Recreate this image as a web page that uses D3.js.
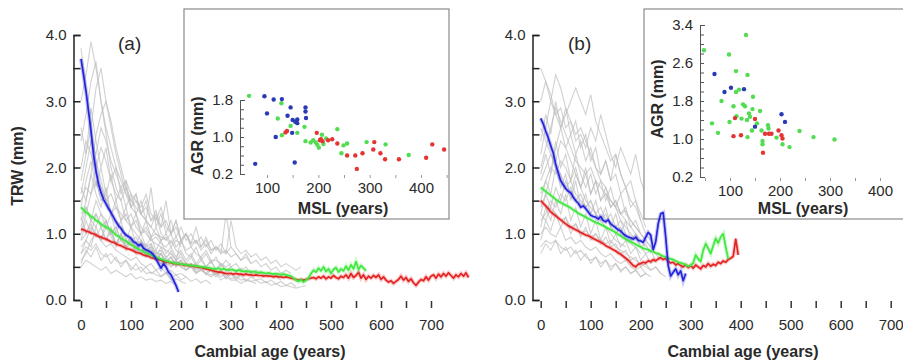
<!DOCTYPE html>
<html>
<head>
<meta charset="utf-8">
<script src="https://cdn.jsdelivr.net/npm/d3@7/dist/d3.min.js"></script>
<style>
  body { margin: 0; background: #fff; }
  svg text { font-family: "Liberation Sans", Arial, Helvetica, sans-serif; fill: #2a2a2a; }
</style>
</head>
<body>
<svg id="chart" width="903" height="360"></svg>
<script>
// ---- data (TRW in mm) ----
// gray individual series: one value every 10 years of cambial age
const GRAY_STEP = 10;
// mean curves: one value every 5 years
const MEAN_STEP = 5;

const grayA = [
  [3.8, 3.2, 2.6, 2.1, 1.8, 1.5, 1.3, 1.2, 1.1, 1.0, 0.9, 0.95, 0.8, 0.85, 0.7, 0.75, 0.6],
  [2.4, 2.8, 3.3, 3.6, 3.0, 2.5, 2.0, 1.7, 1.5, 1.2, 1.1, 1.0, 0.9, 0.8, 0.85, 0.7, 0.7, 0.6, 0.65, 0.55, 0.6],
  [1.8, 2.2, 2.6, 3.2, 3.5, 3.0, 2.6, 2.2, 1.9, 1.6, 1.4, 1.3, 1.1, 1.0, 0.9, 0.85, 0.8, 0.75, 0.7, 0.6, 0.65, 0.55, 0.5, 0.55, 0.45],
  [1.2, 1.5, 1.9, 2.5, 2.8, 3.0, 2.7, 2.3, 2.0, 1.7, 1.5, 1.6, 1.3, 1.2, 1.1, 1.3, 1.0, 0.9, 1.0, 0.8, 0.9, 0.75, 0.8, 0.7, 0.65, 0.75, 0.6, 0.6, 0.55, 0.5, 0.55],
  [0.9, 1.0, 1.2, 1.1, 1.3, 1.2, 1.0, 1.1, 0.9, 0.85, 0.95, 0.8, 0.7, 0.75, 0.65, 0.6, 0.7, 0.55, 0.5, 0.6, 0.5, 0.45, 0.5, 0.4, 0.45, 0.4, 0.35, 0.4, 0.3, 0.35, 0.3, 0.3, 0.25, 0.3, 0.28, 0.25],
  [0.7, 0.8, 0.75, 0.85, 0.7, 0.65, 0.7, 0.6, 0.55, 0.6, 0.5, 0.45, 0.5, 0.4, 0.42, 0.38, 0.35, 0.4, 0.3, 0.32, 0.28, 0.25],
  [1.5, 1.7, 1.6, 1.8, 1.5, 1.6, 1.3, 1.4, 1.2, 1.3, 1.1, 1.2, 1.0, 1.1, 0.95, 1.0, 0.9, 0.95, 0.8, 0.9, 0.85, 1.0, 0.8, 0.9, 0.75, 0.85, 0.7, 0.8, 0.75, 0.7, 1.2, 0.8, 0.7, 0.75, 0.65, 0.7, 0.6, 0.65, 0.55, 0.6, 0.5, 0.55, 0.5, 0.45, 0.5],
  [1.0, 1.3, 1.6, 2.0, 2.3, 2.1, 1.8, 1.6, 1.5, 1.7, 1.4, 1.5, 1.3, 1.4, 1.2, 1.25, 1.1, 1.5, 1.0, 1.2, 0.9, 1.0, 0.85, 0.9, 0.8, 0.95, 0.75, 0.8, 0.7, 0.75, 0.65, 0.7, 0.6, 0.65, 0.55, 0.6, 0.5, 0.55, 0.45, 0.5, 0.4, 0.45, 0.4],
  [0.6, 0.7, 0.9, 1.0, 0.9, 1.1, 0.95, 0.85, 0.9, 0.8, 0.75, 0.8, 0.7, 0.65, 0.7, 0.6, 0.55, 0.6, 0.5, 0.55, 0.5, 0.45, 0.5, 0.42, 0.45, 0.4, 0.38, 0.42, 0.35, 0.4, 0.32, 0.35, 0.3, 0.32, 0.28, 0.3, 0.25, 0.28, 0.22, 0.25, 0.2, 0.22, 0.2, 0.18, 0.2, 0.22],
  [2.0, 2.4, 2.2, 1.9, 1.7, 1.5, 1.6, 1.4, 1.3, 1.2, 1.3, 1.1, 1.0, 1.05, 0.9, 0.95, 0.85, 0.8, 0.9, 0.75, 0.7],
  [1.3, 1.4, 1.2, 1.3, 1.1, 1.2, 1.0, 1.1, 0.9, 1.0, 0.85, 0.8, 0.9, 0.75, 0.8, 0.7, 0.75, 0.65, 0.7, 0.6, 0.9, 0.7, 0.65, 0.8, 0.6, 0.7, 0.55, 0.65, 0.5, 0.6, 0.5, 0.55, 0.45, 0.5, 0.4, 0.45, 0.4, 0.35, 0.4, 0.35, 0.3],
  [0.8, 0.9, 1.1, 1.0, 0.9, 0.8, 0.85, 0.75, 0.7, 0.65, 0.6, 0.65, 0.55, 0.5, 0.55, 0.45, 0.5, 0.4, 0.45, 0.38, 0.4, 0.35],
  [3.0, 3.4, 3.9, 3.5, 3.0, 2.6, 2.3, 2.0, 1.8, 1.6, 1.5, 1.4, 1.3, 1.2, 1.1, 1.0, 0.95, 0.9],
  [1.6, 2.0, 2.4, 2.2, 2.6, 2.4, 2.1, 1.9, 1.7, 1.8, 1.6, 1.5, 1.4, 1.6, 1.3, 1.2, 1.4, 1.1, 1.0, 1.2, 0.9, 1.0, 0.85, 1.1, 0.8, 0.9, 0.75, 0.8, 0.7, 1.3, 0.8, 0.7, 0.6, 0.7, 0.55],
  [0.5, 0.6, 0.55, 0.5, 0.45, 0.5, 0.4, 0.45, 0.4, 0.35, 0.4, 0.32, 0.35, 0.3, 0.32, 0.28, 0.3, 0.25, 0.28, 0.22],
  [1.1, 1.4, 1.2, 1.5, 1.3, 1.1, 1.3, 1.0, 1.2, 0.9, 1.1, 0.85, 1.0, 0.8, 0.95, 0.75, 0.9, 0.7, 0.8, 0.65, 0.75, 0.6, 0.7, 0.55, 0.65, 0.5, 0.6, 0.45, 0.55, 0.45, 0.5],
  [0.9, 1.2, 1.0, 1.3, 1.1, 0.9, 1.1, 0.8, 1.0, 0.75, 0.9, 0.7, 0.85, 0.65, 0.8, 0.6, 0.7, 0.55, 0.65, 0.5, 0.6, 0.45, 0.55, 0.4, 0.5, 0.38, 0.45, 0.35, 0.42, 0.32, 0.4, 0.3, 0.38, 0.28, 0.35, 0.3, 0.32, 0.26, 0.3, 0.24, 0.28, 0.22, 0.26, 0.2],
  [1.7, 1.5, 1.9, 1.6, 1.4, 1.7, 1.3, 1.5, 1.2, 1.4, 1.1, 1.3, 1.0, 1.2, 0.95, 1.1, 0.9, 1.0, 0.85, 0.95, 0.8],
  [0.7, 0.9, 0.8, 1.1, 0.9, 1.2, 1.0, 0.85, 1.0, 0.8, 0.9, 0.7, 0.85, 0.65, 0.75, 0.6, 0.7, 0.55, 0.65, 0.5, 0.6, 0.5, 0.55, 0.45, 0.5, 0.4, 0.48, 0.38, 0.45, 0.35, 0.42, 0.33, 0.4],
  [2.6, 2.2, 2.9, 2.4, 2.0, 2.3, 1.8, 2.0, 1.6, 1.8, 1.4, 1.6, 1.3, 1.5, 1.2, 1.35, 1.1, 1.2, 1.0, 1.1, 0.9, 1.0, 0.85],
  [1.25, 1.0, 1.15, 0.95, 1.1, 0.9, 1.05, 0.85, 1.0, 0.8, 0.95, 0.75, 0.9, 0.7, 0.85, 0.65, 0.8, 0.62, 0.75, 0.6, 0.7, 0.55, 0.65, 0.52, 0.6, 0.5, 0.58, 0.46, 0.55, 0.44, 0.5, 0.42, 0.48, 0.4, 0.45, 0.38, 0.42],
  [0.55, 0.75, 0.65, 0.8, 0.6, 0.7, 0.55, 0.65, 0.5, 0.6, 0.45, 0.55, 0.42, 0.5, 0.4, 0.45, 0.36, 0.42, 0.33, 0.38, 0.3, 0.35, 0.28, 0.32, 0.26, 0.3, 0.24],
  [1.4, 1.8, 2.1, 1.7, 2.0, 1.6, 1.9, 1.5, 1.7, 1.4, 1.6, 1.3, 1.5, 1.2, 1.7, 1.1, 1.3, 1.0, 1.2, 0.95, 1.1, 0.9, 1.0, 0.85, 0.95, 0.8, 0.9, 0.75, 0.85, 0.7, 0.8]
];

const blueA = [3.64, 3.40, 3.15, 2.85, 2.55, 2.20, 1.95, 1.75, 1.62, 1.52, 1.45, 1.38, 1.32, 1.25, 1.18, 1.12, 1.08, 1.02, 0.98, 0.96,
  0.93, 0.88, 0.86, 0.82, 0.84, 0.78, 0.76, 0.74, 0.72, 0.68, 0.62, 0.55, 0.48, 0.55, 0.50, 0.42, 0.38, 0.30, 0.22, 0.12];

const greenA = [1.40, 1.36, 1.32, 1.30, 1.26, 1.24, 1.20, 1.18, 1.15, 1.12, 1.10, 1.08, 1.05, 1.02, 0.98, 0.96, 0.93, 0.91, 0.89, 0.86,
  0.83, 0.81, 0.79, 0.77, 0.75, 0.73, 0.71, 0.70, 0.68, 0.66, 0.65, 0.63, 0.62, 0.60, 0.59, 0.58, 0.57, 0.56, 0.55, 0.55,
  0.54, 0.54, 0.53, 0.53, 0.52, 0.52, 0.51, 0.51, 0.50, 0.50, 0.49, 0.49, 0.48, 0.47, 0.47, 0.48, 0.46, 0.47, 0.46, 0.45,
  0.46, 0.45, 0.44, 0.45, 0.44, 0.43, 0.44, 0.43, 0.42, 0.43, 0.42, 0.41, 0.42, 0.41, 0.40, 0.41, 0.40, 0.39, 0.40, 0.39,
  0.38, 0.39, 0.38, 0.37, 0.36, 0.33, 0.30, 0.28, 0.31, 0.27, 0.30, 0.33, 0.40, 0.45, 0.42, 0.48, 0.44, 0.50, 0.43, 0.47,
  0.40, 0.46, 0.49, 0.42, 0.47, 0.44, 0.51, 0.45, 0.53, 0.47, 0.58, 0.46, 0.52, 0.48, 0.44];

const redA = [1.07, 1.06, 1.04, 1.03, 1.01, 1.00, 0.98, 0.96, 0.95, 0.93, 0.92, 0.90, 0.88, 0.87, 0.85, 0.83, 0.82, 0.80, 0.78, 0.77,
  0.76, 0.74, 0.72, 0.71, 0.70, 0.68, 0.67, 0.66, 0.64, 0.63, 0.62, 0.61, 0.60, 0.58, 0.57, 0.57, 0.56, 0.55, 0.55, 0.54,
  0.54, 0.53, 0.53, 0.52, 0.52, 0.51, 0.50, 0.50, 0.49, 0.48, 0.47, 0.46, 0.45, 0.44, 0.43, 0.42, 0.42, 0.41, 0.40, 0.40,
  0.40, 0.39, 0.40, 0.39, 0.39, 0.38, 0.39, 0.38, 0.38, 0.37, 0.38, 0.37, 0.37, 0.36, 0.37, 0.36, 0.36, 0.35, 0.36, 0.35,
  0.35, 0.34, 0.35, 0.34, 0.33, 0.32, 0.31, 0.30, 0.31, 0.30, 0.31, 0.32, 0.33, 0.34, 0.32, 0.35, 0.33, 0.36, 0.32, 0.35,
  0.33, 0.37, 0.34, 0.32, 0.36, 0.34, 0.38, 0.33, 0.40, 0.34, 0.37, 0.42, 0.33, 0.38, 0.31, 0.36, 0.33, 0.37, 0.34, 0.38,
  0.31, 0.35, 0.30, 0.27, 0.29, 0.25, 0.28, 0.31, 0.36, 0.30, 0.34, 0.28, 0.32, 0.26, 0.22, 0.27, 0.31, 0.29, 0.35, 0.30,
  0.36, 0.38, 0.33, 0.39, 0.35, 0.40, 0.36, 0.41, 0.37, 0.33, 0.38, 0.35, 0.40, 0.36, 0.41, 0.34];

const grayB = [
  [3.5, 3.3, 3.0, 2.8, 2.6, 2.3, 2.1, 1.9, 1.7, 1.5, 1.4, 1.3, 1.2, 1.1, 1.0, 0.9, 0.85, 0.8],
  [2.2, 2.6, 3.0, 3.4, 3.2, 2.9, 2.7, 2.5, 2.6, 2.4, 2.2, 2.0, 1.8, 1.7, 1.5, 1.4, 1.2, 1.1, 1.0, 0.9],
  [1.4, 1.6, 1.9, 2.3, 2.6, 2.8, 3.0, 3.2, 3.0, 2.8, 3.1, 2.7, 2.5, 2.3, 2.1, 2.2, 1.9, 1.7, 1.5, 1.4, 1.2, 1.0, 0.9],
  [1.8, 2.0, 2.2, 2.1, 2.4, 2.3, 2.5, 2.2, 2.4, 2.1, 2.3, 2.0, 1.9, 2.1, 1.8, 2.2, 1.9, 1.7, 1.8, 1.5, 1.3, 1.1],
  [1.2, 1.3, 1.5, 1.4, 1.6, 1.5, 1.7, 1.5, 1.6, 1.4, 1.5, 1.3, 1.4, 1.2, 1.3, 1.1, 1.2, 1.0, 0.9, 0.95, 0.8, 0.7, 0.75, 0.6],
  [1.0, 1.1, 1.0, 0.95, 1.1, 0.9, 0.95, 0.85, 0.9, 0.8, 0.75, 0.8, 0.7, 0.65, 0.7, 0.6, 0.55, 0.6, 0.5, 0.45, 0.5, 0.4],
  [2.6, 2.4, 2.2, 2.0, 1.9, 1.7, 1.8, 1.6, 1.5, 1.4, 1.5, 1.3, 1.2, 1.3, 1.1, 1.0, 1.1, 0.9, 0.85, 0.8, 0.7],
  [1.6, 1.8, 2.0, 1.9, 2.1, 2.0, 1.8, 2.2, 1.9, 1.7, 1.9, 1.6, 1.8, 1.5, 1.7, 1.4, 1.6, 1.3, 1.2, 1.1, 1.0, 0.9, 0.8, 0.7, 0.6],
  [0.8, 0.9, 0.85, 0.9, 0.8, 0.75, 0.8, 0.7, 0.75, 0.65, 0.6, 0.65, 0.55, 0.6, 0.5, 0.55, 0.45, 0.5, 0.4, 0.45, 0.35, 0.4, 0.35],
  [3.0, 3.3, 3.1, 2.8, 2.9, 2.6, 2.7, 2.4, 2.5, 2.3, 2.6, 2.4, 2.8, 2.5, 2.2, 2.0, 2.3, 2.1, 1.9, 2.2, 1.8, 1.6, 1.4],
  [1.3, 1.2, 1.4, 1.3, 1.2, 1.25, 1.1, 1.15, 1.0, 1.05, 0.95, 1.0, 0.9, 0.85, 0.9, 0.8, 0.75, 0.7, 0.65, 0.6, 0.55, 0.5, 0.45, 0.5, 0.4, 0.35],
  [2.0, 2.3, 2.6, 2.9, 2.7, 2.5, 2.3, 2.1, 2.0, 1.9, 2.0, 1.8, 1.7, 1.6, 1.5, 1.4, 1.3, 1.2, 1.1, 1.0, 0.9, 0.8],
  [1.5, 1.8, 1.6, 2.0, 1.7, 1.9, 1.5, 1.8, 1.4, 1.6, 1.3, 1.5, 1.2, 1.4, 1.1, 1.3, 1.0, 1.2, 0.9, 1.0, 0.8, 0.85, 0.7],
  [1.1, 1.4, 1.2, 1.5, 1.3, 1.6, 1.2, 1.4, 1.1, 1.3, 1.0, 1.2, 0.9, 1.1, 0.85, 1.0, 0.8, 0.9, 0.7, 0.8, 0.6, 0.7, 0.55, 0.6],
  [2.4, 2.8, 2.5, 3.0, 2.6, 2.9, 2.5, 2.7, 2.3, 2.5, 2.1, 2.3, 1.9, 2.1, 1.8, 1.9, 1.6, 1.7, 1.4, 1.5, 1.2],
  [0.9, 1.2, 1.05, 1.3, 1.1, 1.25, 1.0, 1.15, 0.95, 1.1, 0.9, 1.0, 0.85, 0.95, 0.8, 0.85, 0.7, 0.75, 0.6, 0.65, 0.5, 0.55, 0.45, 0.5, 0.4],
  [1.9, 2.2, 1.9, 2.4, 2.0, 2.2, 1.8, 2.0, 1.7, 1.9, 1.6, 1.8, 1.5, 1.6, 1.4, 1.5, 1.3, 1.35, 1.2, 1.1, 1.0],
  [1.3, 1.6, 1.4, 1.7, 1.5, 1.8, 1.6, 1.9, 1.7, 2.0, 1.6, 1.8, 1.5, 1.7, 1.4, 1.5, 1.3, 1.4, 1.1, 1.2, 1.0, 0.9, 0.8, 0.7],
  [0.7, 0.85, 0.75, 0.9, 0.7, 0.8, 0.65, 0.75, 0.6, 0.7, 0.55, 0.65, 0.5, 0.6, 0.45, 0.55, 0.42, 0.5, 0.4, 0.45, 0.35, 0.4]
];

const blueB = [2.74, 2.66, 2.55, 2.45, 2.33, 2.22, 2.05, 1.92, 1.80, 1.74, 1.68, 1.64, 1.62, 1.55, 1.50, 1.46, 1.40, 1.42, 1.38, 1.33,
  1.28, 1.26, 1.25, 1.22, 1.26, 1.20, 1.18, 1.21, 1.15, 1.12, 1.09, 1.06, 1.04, 1.00, 0.97, 0.95, 0.94, 0.92, 0.95, 0.90,
  0.89, 0.87, 0.95, 1.02, 0.98, 0.76, 0.88, 1.15, 1.30, 1.32, 0.95, 0.52, 0.36, 0.42, 0.47, 0.38, 0.44, 0.29, 0.40];

const greenB = [1.70, 1.67, 1.64, 1.61, 1.58, 1.55, 1.52, 1.49, 1.47, 1.45, 1.43, 1.41, 1.39, 1.36, 1.34, 1.31, 1.29, 1.27, 1.25, 1.23,
  1.21, 1.19, 1.17, 1.16, 1.14, 1.12, 1.10, 1.08, 1.06, 1.04, 1.02, 0.99, 0.97, 0.94, 0.92, 0.90, 0.88, 0.86, 0.84, 0.82,
  0.80, 0.78, 0.77, 0.76, 0.74, 0.73, 0.71, 0.70, 0.68, 0.66, 0.65, 0.63, 0.62, 0.61, 0.59, 0.57, 0.56, 0.55, 0.53, 0.51,
  0.52, 0.56, 0.68, 0.62, 0.58, 0.75, 0.85, 0.78, 0.70, 0.82, 0.93, 0.86, 0.95, 1.00, 0.80, 0.62];

const redB = [1.50, 1.46, 1.42, 1.38, 1.33, 1.30, 1.27, 1.24, 1.21, 1.18, 1.15, 1.12, 1.10, 1.08, 1.06, 1.04, 1.02, 1.00, 0.98, 0.97,
  0.95, 0.93, 0.91, 0.89, 0.87, 0.85, 0.82, 0.80, 0.78, 0.76, 0.74, 0.71, 0.69, 0.66, 0.63, 0.60, 0.56, 0.52, 0.50, 0.54,
  0.55, 0.57, 0.56, 0.59, 0.58, 0.61, 0.59, 0.62, 0.64, 0.61, 0.63, 0.58, 0.56, 0.57, 0.53, 0.55, 0.52, 0.50, 0.53, 0.49,
  0.52, 0.48, 0.53, 0.50, 0.47, 0.52, 0.50, 0.55, 0.51, 0.54, 0.52, 0.57, 0.55, 0.59, 0.57, 0.61, 0.63, 0.66, 0.92, 0.68];

// inset scatter: [MSL (years), AGR (mm)]
const dotsA_blue = [[95, 1.88], [113, 1.81], [129, 1.82], [100, 1.51], [146, 1.64], [140, 1.46], [150, 1.37], [159, 1.38], [159, 1.30],
  [175, 1.64], [175, 1.55], [176, 1.41], [149, 1.09], [117, 1.00], [77, 0.42], [154, 0.45], [155, 1.33]];
const dotsA_green = [[65, 1.89], [128, 1.73], [121, 1.40], [146, 1.24], [173, 1.22], [159, 1.09], [129, 1.04], [175, 0.91], [190, 0.93],
  [207, 1.05], [198, 0.83], [201, 0.77], [195, 0.88], [210, 0.85], [237, 1.17], [249, 0.82], [256, 0.86], [245, 0.65], [294, 0.89],
  [331, 0.84], [376, 0.61], [185, 0.88], [215, 0.97]];
const dotsA_red = [[136, 1.10], [139, 1.13], [197, 1.09], [203, 0.93], [208, 0.91], [219, 0.93], [227, 0.95], [237, 0.86], [256, 0.60],
  [272, 0.60], [286, 0.65], [275, 0.31], [309, 0.89], [307, 0.73], [321, 0.65], [330, 0.52], [357, 0.52], [410, 0.55], [422, 0.84],
  [445, 0.73], [205, 0.95]];

const dotsB_blue = [[69, 2.37], [89, 1.99], [102, 2.08], [128, 2.05], [150, 1.26], [203, 1.52], [210, 1.36]];
const dotsB_green = [[48, 2.87], [98, 2.78], [132, 3.19], [112, 2.43], [135, 2.35], [112, 1.99], [118, 2.04], [83, 1.80], [146, 1.89],
  [107, 1.69], [126, 1.73], [130, 1.69], [145, 1.63], [160, 1.59], [64, 1.33], [76, 1.13], [99, 1.36], [113, 1.48], [123, 1.43],
  [134, 1.40], [138, 1.54], [140, 1.47], [154, 1.33], [144, 1.18], [135, 1.04], [163, 1.18], [165, 0.96], [165, 0.89], [176, 1.29],
  [177, 1.22], [193, 1.03], [205, 0.89], [219, 0.83], [239, 1.17], [267, 1.04], [309, 0.99]];
const dotsB_red = [[110, 1.44], [150, 1.42], [107, 1.06], [122, 1.08], [166, 0.71], [170, 1.11], [178, 1.11], [183, 1.11], [197, 1.18],
  [203, 1.08], [205, 1.01]];

// axes
const ageTicks = [0, 50, 100, 150, 200, 250, 300, 350, 400, 450, 500, 550, 600, 650, 700];
const ageLabels = [0, 100, 200, 300, 400, 500, 600, 700];
const trwTicks = [0, 0.5, 1, 1.5, 2, 2.5, 3, 3.5, 4];
const trwLabels = [0, 1, 2, 3, 4];
const mslTicks = [50, 100, 150, 200, 250, 300, 350, 400, 450];
const mslLabels = [100, 200, 300, 400];
const agrTicksA = [0.2, 0.4, 0.6, 0.8, 1.0, 1.2, 1.4, 1.6, 1.8];
const agrLabelsA = [0.2, 1.0, 1.8];
const agrTicksB = [0.2, 0.4, 0.6, 0.8, 1.0, 1.2, 1.4, 1.6, 1.8, 2.0, 2.2, 2.4, 2.6, 2.8, 3.0, 3.2, 3.4];
const agrLabelsB = [0.2, 1.0, 1.8, 2.6, 3.4];

const COL = { blue: "#2424dc", green: "#3ee83e", red: "#e62222", gray: "#bdbdbd" };
const DOT = { blue: "#2a3ab4", green: "#52dc52", red: "#e43434" };

const svg = d3.select("#chart");
const f1 = d3.format(".1f");

function drawPanel(p) {
  const x = d3.scaleLinear().domain([0, 700]).range([p.x0, p.x0 + 350]);
  const y = d3.scaleLinear().domain([0, 4]).range([300, 35]);
  const g = svg.append("g");

  // individual series
  const grayLine = d3.line().x((d, i) => x(i * GRAY_STEP)).y(d => y(d));
  g.append("g").selectAll("path").data(p.gray).enter().append("path")
    .attr("d", grayLine)
    .attr("fill", "none")
    .attr("stroke", COL.gray)
    .attr("stroke-opacity", 0.7)
    .attr("stroke-width", 1.1);

  // y axis (ticks point inward)
  const ya = g.append("g")
    .attr("transform", "translate(" + p.axisX + ",0)")
    .call(d3.axisLeft(y).tickValues(trwTicks).tickSize(-7).tickSizeOuter(-7).tickPadding(7)
      .tickFormat(d => trwLabels.includes(d) ? f1(d) : ""));
  ya.selectAll("line, path").attr("stroke", "#222").attr("stroke-width", 1.5);
  ya.selectAll("text").style("font-size", "15px").attr("fill", "#2a2a2a");

  // x axis: ticks only, no baseline
  const xa = g.append("g")
    .attr("transform", "translate(0,301)")
    .call(d3.axisBottom(x).tickValues(ageTicks).tickSize(7).tickPadding(11)
      .tickFormat(d => ageLabels.includes(d) ? d : ""));
  xa.select(".domain").remove();
  xa.selectAll("line").attr("stroke", "#333").attr("stroke-width", 1.5);
  xa.selectAll("text").style("font-size", "15px").attr("fill", "#2a2a2a");

  g.append("text")
    .attr("x", p.titleX).attr("y", 357)
    .attr("text-anchor", "middle")
    .style("font-size", "16px").style("font-weight", "bold")
    .text("Cambial age (years)");

  if (p.yTitle) {
    g.append("text")
      .attr("transform", "translate(23,166) rotate(-90)")
      .attr("text-anchor", "middle")
      .style("font-size", "16px").style("font-weight", "bold")
      .text("TRW (mm)");
  }

  g.append("text")
    .attr("x", p.tagX).attr("y", 50)
    .style("font-size", "19px")
    .text(p.tag);

  drawInset(g, p.inset);

  // mean curves on top
  const meanLine = d3.line().x((d, i) => x(i * MEAN_STEP)).y(d => y(d));
  [["red", p.red], ["green", p.green], ["blue", p.blue]].forEach(([c, vals]) => {
    g.append("path").attr("d", meanLine(vals))
      .attr("fill", "none").attr("stroke", COL[c])
      .attr("stroke-opacity", 0.25).attr("stroke-width", 4);
    g.append("path").attr("d", meanLine(vals))
      .attr("fill", "none").attr("stroke", COL[c])
      .attr("stroke-width", 1.7).attr("stroke-linejoin", "round");
  });
}

function drawInset(parent, s) {
  const g = parent.append("g");
  g.append("rect")
    .attr("x", s.box[0]).attr("y", s.box[1])
    .attr("width", s.box[2]).attr("height", s.box[3])
    .attr("fill", "#fff").attr("stroke", "#8a8a8a").attr("stroke-width", 1.2);

  const x = d3.scaleLinear().domain([100, 400]).range(s.xr);
  const y = d3.scaleLinear().domain(s.yd).range(s.yr);

  const ya = g.append("g")
    .attr("transform", "translate(" + s.axisX + ",0)")
    .call(d3.axisLeft(y).tickValues(s.yTicks).tickSize(-4).tickSizeOuter(-5).tickPadding(7)
      .tickFormat(d => s.yLabels.some(v => Math.abs(v - d) < 1e-9) ? f1(d) : ""));
  ya.selectAll("line, path").attr("stroke", "#555").attr("stroke-width", 1);
  ya.selectAll("text").style("font-size", "15px").attr("fill", "#2a2a2a");

  const xa = g.append("g")
    .attr("transform", "translate(0," + (s.yr[0] + 1) + ")")
    .call(d3.axisBottom(x).tickValues(mslTicks.filter(v => x(v) > s.axisX + 2)).tickSize(3).tickPadding(4)
      .tickFormat(d => mslLabels.includes(d) ? d : ""));
  xa.select(".domain").remove();
  xa.selectAll("line").attr("stroke", "#999");
  xa.selectAll("text").style("font-size", "15px").attr("fill", "#2a2a2a");

  g.append("text")
    .attr("x", s.xTitle[0]).attr("y", s.xTitle[1])
    .attr("text-anchor", "middle")
    .style("font-size", "16px").style("font-weight", "bold")
    .text("MSL (years)");
  g.append("text")
    .attr("transform", "translate(" + s.yTitle[0] + "," + s.yTitle[1] + ") rotate(-90)")
    .attr("text-anchor", "middle")
    .style("font-size", "16px").style("font-weight", "bold")
    .text("AGR (mm)");

  [["green", s.green], ["blue", s.blue], ["red", s.red]].forEach(([c, pts]) => {
    g.append("g").selectAll("circle").data(pts).enter().append("circle")
      .attr("cx", d => x(d[0])).attr("cy", d => y(d[1]))
      .attr("r", 2.2).attr("fill", DOT[c]);
  });
}

drawPanel({
  x0: 81, axisX: 73.5, titleX: 270, tagX: 118, tag: "(a)", yTitle: true,
  gray: grayA, blue: blueA, green: greenA, red: redA,
  inset: {
    box: [184, 9, 265, 210], axisX: 240, xr: [267, 421], yd: [0.2, 1.8], yr: [174, 100],
    yTicks: agrTicksA, yLabels: agrLabelsA, xTitle: [343, 214], yTitle: [203, 136],
    blue: dotsA_blue, green: dotsA_green, red: dotsA_red
  }
});

drawPanel({
  x0: 540.7, axisX: 532.5, titleX: 743, tagX: 568, tag: "(b)", yTitle: false,
  gray: grayB, blue: blueB, green: greenB, red: redB,
  inset: {
    box: [644, 9, 265, 210], axisX: 700, xr: [730, 880], yd: [0.2, 3.4], yr: [177, 25],
    yTicks: agrTicksB, yLabels: agrLabelsB, xTitle: [803, 214], yTitle: [663, 99],
    blue: dotsB_blue, green: dotsB_green, red: dotsB_red
  }
});
</script>
</body>
</html>
